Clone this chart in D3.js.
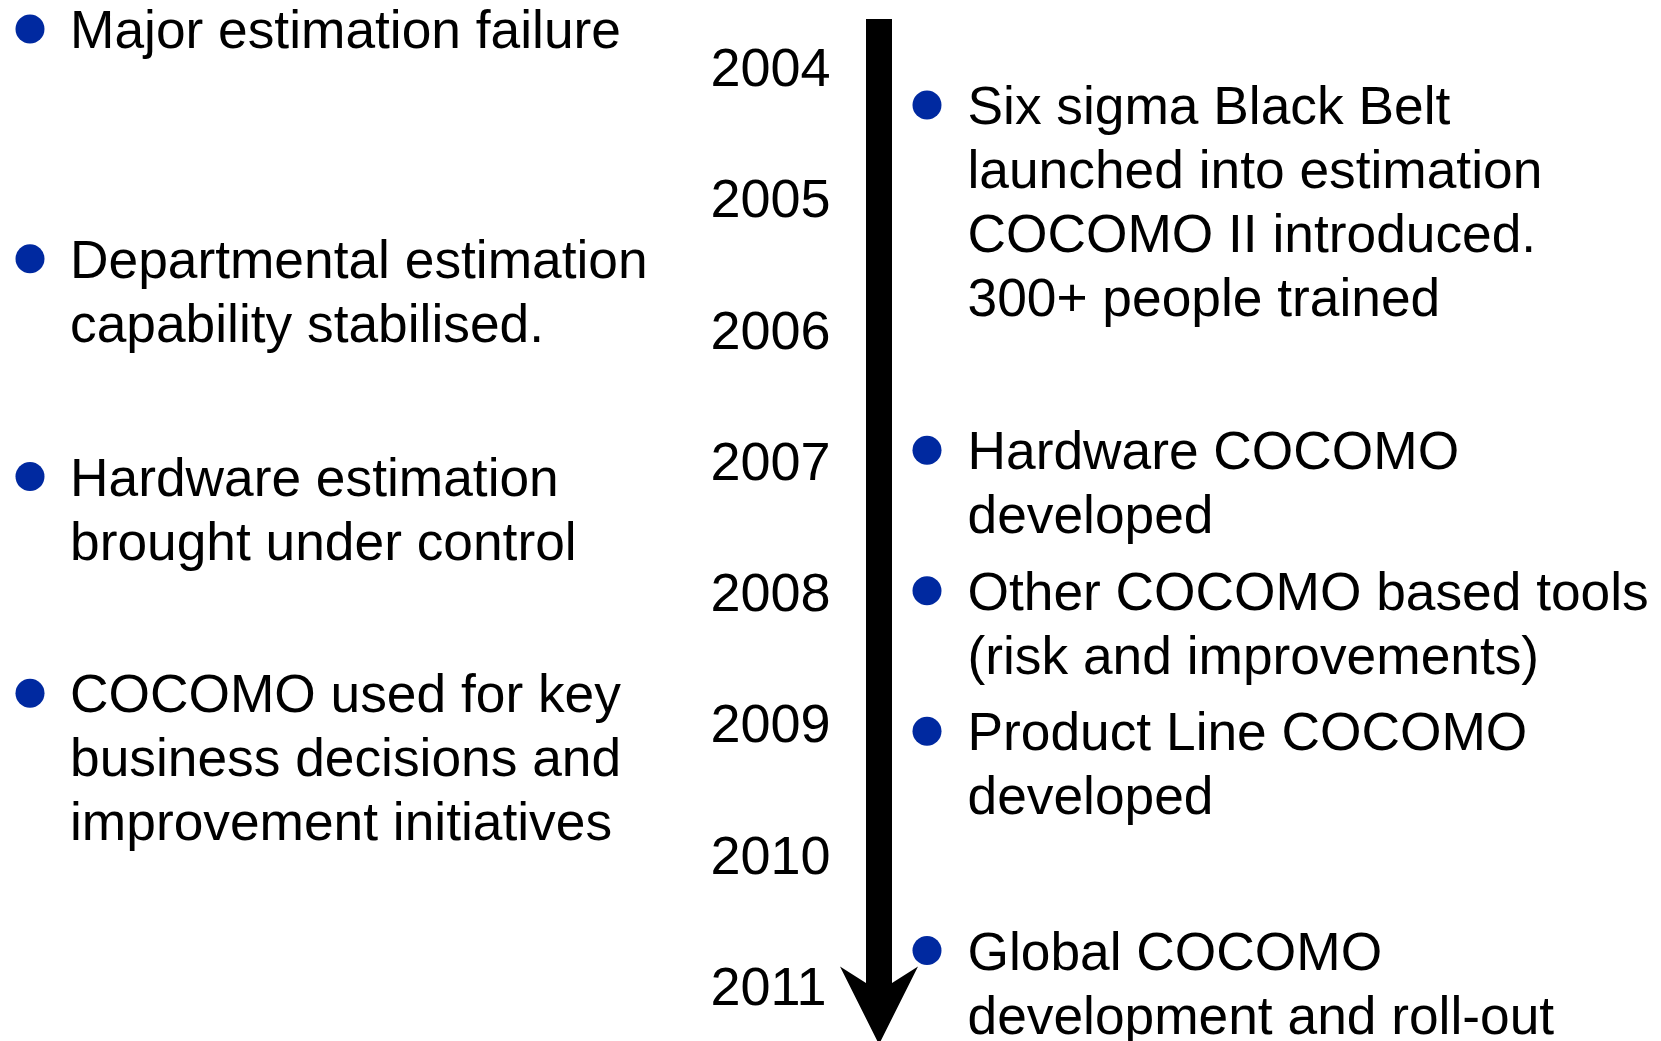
<!DOCTYPE html>
<html>
<head>
<meta charset="utf-8">
<script src="https://cdn.jsdelivr.net/npm/d3@7"></script>
<style>
  html, body { margin: 0; padding: 0; background: #fff; }
  svg { display: block; }
  text { font-family: "Liberation Sans", Arial, sans-serif; fill: #000; }
</style>
</head>
<body>
<svg id="chart" width="1661" height="1041"></svg>
<script>
// timeline years
const years = [2004, 2005, 2006, 2007, 2008, 2009, 2010, 2011];

// left column: position on the timeline (fractional year) and text lines
const leftWhen = [2003.71, 2005.46, 2007.12, 2008.77];
const leftLines = [
  ["Major estimation failure"],
  ["Departmental estimation", "capability stabilised."],
  ["Hardware estimation", "brought under control"],
  ["COCOMO used for key", "business decisions and", "improvement initiatives"]
];

// right column
const rightWhen = [2004.29, 2006.92, 2007.99, 2009.06, 2010.73];
const rightLines = [
  ["Six sigma Black Belt", "launched into estimation", "COCOMO II introduced.", "300+ people trained"],
  ["Hardware COCOMO", "developed"],
  ["Other COCOMO based tools", "(risk and improvements)"],
  ["Product Line COCOMO", "developed"],
  ["Global COCOMO", "development and roll-out"]
];

// arrow extent on the timeline
const arrowFrom = 2003.49;
const arrowTo = 2011.3;

const fontSize = 53.3;
const yearSize = 54;
const lineHeight = 64;
const bulletColor = "#0029a0";

const svg = d3.select("#chart");

// year -> baseline y
const y = d3.scaleLinear()
  .domain([2004, 2011])
  .range([86, 1005]);

// arrow (shaft + head)
const shaftL = 866, shaftR = 892, cx = 879;
const headHalf = 39, headBack = 25, headLen = 78;
const yTop = y(arrowFrom);
const yTip = y(arrowTo);
const yWing = yTip - headLen;
const notchL = yWing + headBack * (shaftL - (cx - headHalf)) / headHalf;
const notchR = yWing + headBack * ((cx + headHalf) - shaftR) / headHalf;

svg.append("path")
  .attr("class", "arrow")
  .attr("d", d3.line()([
    [shaftL, yTop],
    [shaftL, notchL],
    [cx - headHalf, yWing],
    [cx, yTip],
    [cx + headHalf, yWing],
    [shaftR, notchR],
    [shaftR, yTop]
  ]) + "Z")
  .attr("fill", "#000");

// year labels
svg.selectAll(".year")
  .data(years)
  .join("text")
  .attr("class", "year")
  .attr("x", 710.5)
  .attr("y", d => y(d))
  .attr("font-size", yearSize)
  .text(d => d);

// bullet items
function drawItems(cls, when, lines, bulletX, textX) {
  const data = when.map((w, i) => ({ when: w, lines: lines[i] }));
  const g = svg.selectAll("." + cls)
    .data(data)
    .join("g")
    .attr("class", cls)
    .attr("transform", d => `translate(0, ${y(d.when)})`);

  g.append("circle")
    .attr("cx", bulletX)
    .attr("cy", -19)
    .attr("r", 14.5)
    .attr("fill", bulletColor);

  g.append("text")
    .attr("font-size", fontSize)
    .selectAll("tspan")
    .data(d => d.lines)
    .join("tspan")
    .attr("x", textX)
    .attr("y", (d, i) => i * lineHeight)
    .text(d => d);
}

drawItems("left-item", leftWhen, leftLines, 30, 70);
drawItems("right-item", rightWhen, rightLines, 927, 967.5);
</script>
</body>
</html>
